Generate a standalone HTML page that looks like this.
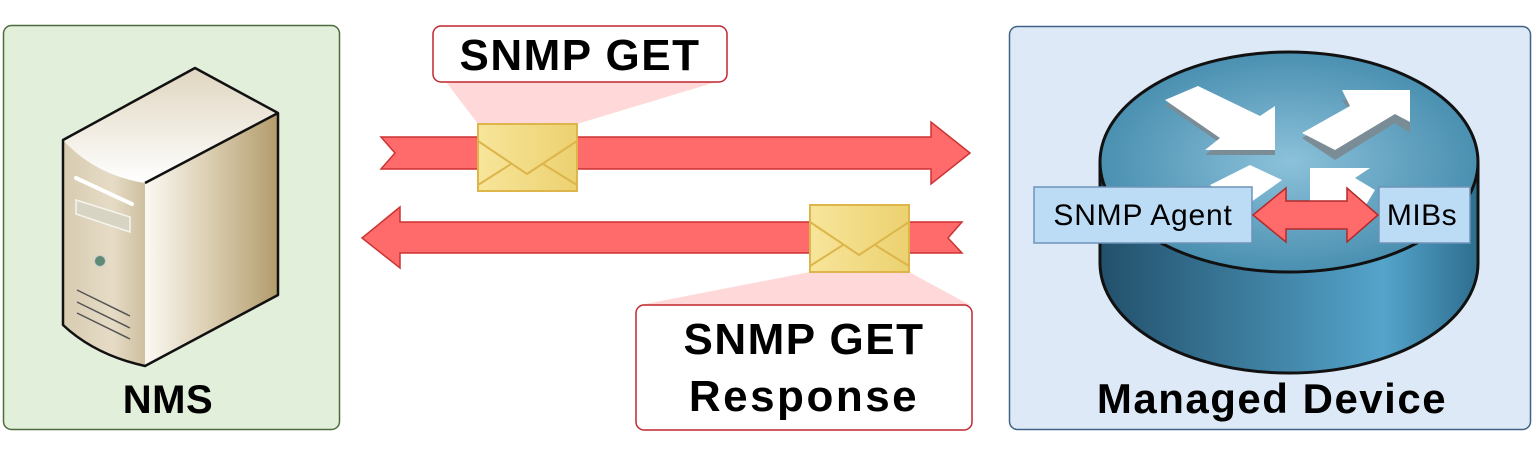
<!DOCTYPE html>
<html><head><meta charset="utf-8"><style>
html,body{margin:0;padding:0;background:#fff}
svg{display:block}
text{font-family:"Liberation Sans",sans-serif;font-weight:bold}
</style></head><body>
<svg width="1536" height="453" viewBox="0 0 1536 453" xmlns="http://www.w3.org/2000/svg">
<defs>
<linearGradient id="sv" x1="0" x2="1" y1="0" y2="0">
<stop offset="0" stop-color="#fbf9f3"/><stop offset="0.45" stop-color="#ddd1b6"/><stop offset="1" stop-color="#b39c6c"/></linearGradient>
<linearGradient id="sl" x1="0" x2="1"><stop offset="0" stop-color="#d7cbb0"/><stop offset="0.6" stop-color="#e6dcc6"/><stop offset="1" stop-color="#cdbf9f"/></linearGradient>
<linearGradient id="st" x1="0" x2="0" y1="0" y2="1"><stop offset="0" stop-color="#e0d6c0"/><stop offset="1" stop-color="#ffffff"/></linearGradient>
<linearGradient id="rs" x1="0" x2="1"><stop offset="0" stop-color="#22506b"/><stop offset="0.75" stop-color="#55a4cb"/><stop offset="1" stop-color="#2e6e8f"/></linearGradient>
<radialGradient id="rt" cx="0.5" cy="0.5" r="0.6"><stop offset="0" stop-color="#8cc1da"/><stop offset="1" stop-color="#3d86a8"/></radialGradient>
<linearGradient id="env" x1="0" x2="1"><stop offset="0" stop-color="#f7e59a"/><stop offset="1" stop-color="#ecd170"/></linearGradient>
</defs>
<rect x="3.5" y="25.5" width="336" height="404" rx="8" fill="#e2efda" stroke="#4e6b3b" stroke-width="1.5"/>
<path d="M145 183 L278 113 L278 295 L145 366 Z" fill="url(#sv)"/>
<path d="M63 140 Q95 175 145 183 L145 366 Q95 355 63 325 Z" fill="url(#sl)"/>
<path d="M63 140 L195 68 L278 113 L145 183 Q95 175 63 140 Z" fill="url(#st)"/>
<path d="M63 140 L195 68 L278 113 L278 295 L145 366 Q95 355 63 325 Z M145 183 L278 113" fill="none" stroke="#111" stroke-width="2.5" stroke-linejoin="round"/>
<path d="M76 178 L132 204" stroke="#fff" stroke-width="4" stroke-linecap="round"/>
<path d="M76 200 L130 217 L130 232 L76 214 Z" fill="#d8d4c4" stroke="#f6f4ee" stroke-width="1.5"/>
<circle cx="100" cy="261" r="5.5" fill="#5f8a76" stroke="#ccc" stroke-width="1"/>
<path d="M77 290 L130 316 M77 302 L130 328 M77 313 L130 339" stroke="#555" stroke-width="1.5"/>
<text x="168" y="413" font-size="40" text-anchor="middle" letter-spacing="0.5">NMS</text>
<rect x="1009.5" y="26.5" width="521" height="403" rx="8" fill="#dde9f6" stroke="#3e6387" stroke-width="1.5"/>
<path d="M1100 162 L1100 263 A189 110 0 0 0 1478 263 L1478 162 Z" fill="url(#rs)" stroke="#111" stroke-width="3"/>
<ellipse cx="1289" cy="162" rx="189" ry="110" fill="url(#rt)" stroke="#111" stroke-width="3"/>
<g fill="#7a8c96" transform="translate(0,5)">
<path d="M1165 100 L1198 86 L1260 116 L1275 106 L1275 150 L1205 150 L1220 138 Z"/>
<path d="M1302 133 L1350 106 L1342 95 L1410 90 L1410 128 L1395 118 L1335 155 Z"/>
</g>
<g fill="#fff">
<path d="M1165 100 L1198 86 L1260 116 L1275 106 L1275 150 L1205 150 L1220 138 Z"/>
<path d="M1302 133 L1350 106 L1342 90 L1410 90 L1410 122 L1395 114 L1335 150 Z"/>
<path d="M1210 185 L1250 165 L1282 180 L1240 210 Z"/>
<path d="M1310 168 L1370 168 L1355 178 L1375 190 L1360 215 L1310 215 Z"/>
</g>
<rect x="1034" y="187" width="218" height="56" fill="#bcdcf6" stroke="#6f93b8" stroke-width="1.5"/>
<text x="1143" y="225" font-size="30" text-anchor="middle" letter-spacing="0.8" style="font-weight:normal">SNMP Agent</text>
<rect x="1379" y="187" width="91" height="56" fill="#bcdcf6" stroke="#6f93b8" stroke-width="1.5"/>
<text x="1422" y="225" font-size="30" text-anchor="middle" letter-spacing="0.5" style="font-weight:normal">MIBs</text>
<path d="M1253 215 L1286 188 L1286 201 L1347 201 L1347 188 L1378 215 L1347 242 L1347 229 L1286 229 L1286 242 Z" fill="#ff6b6b" stroke="#b42a2a" stroke-width="1.5"/>
<text x="1272" y="413" font-size="42" text-anchor="middle" letter-spacing="1.5">Managed Device</text>
<path d="M446 82 L716 82 L577 124 L478 124 Z" fill="#ffd9d9"/>
<path d="M810 272 L909 272 L970 305 L640 305 Z" fill="#ffd9d9"/>
<path d="M381 137 L931 137 L931 122 L970 153 L931 184 L931 169 L381 169 L395 153 Z" fill="#ff6b6b" stroke="#c33" stroke-width="1.5"/>
<path d="M962 222 L400 222 L400 207 L362 238 L400 268 L400 253 L962 253 L948 238 Z" fill="#ff6b6b" stroke="#c33" stroke-width="1.5"/>
<g stroke="#ddb54a" stroke-width="2" fill="none">
<rect x="478" y="124" width="99" height="67" fill="url(#env)"/>
<path d="M478 141 L527 174 L577 141 M478 185 L511 164 M577 185 L543 164"/>
<rect x="810" y="205" width="99" height="67" fill="url(#env)"/>
<path d="M810 222 L859 255 L909 222 M810 266 L843 245 M909 266 L875 245"/>
</g>
<rect x="433" y="26" width="294" height="56" rx="8" fill="#fff" stroke="#c1272d" stroke-width="1.5"/>
<text x="580" y="70" font-size="44" text-anchor="middle" letter-spacing="1.5">SNMP GET</text>
<rect x="636" y="305" width="336" height="125" rx="8" fill="#fff" stroke="#c1272d" stroke-width="1.5"/>
<text x="804" y="354" font-size="44" text-anchor="middle" letter-spacing="1.5">SNMP GET</text>
<text x="804" y="411" font-size="44" text-anchor="middle" letter-spacing="2.5">Response</text>
</svg>
</body></html>
